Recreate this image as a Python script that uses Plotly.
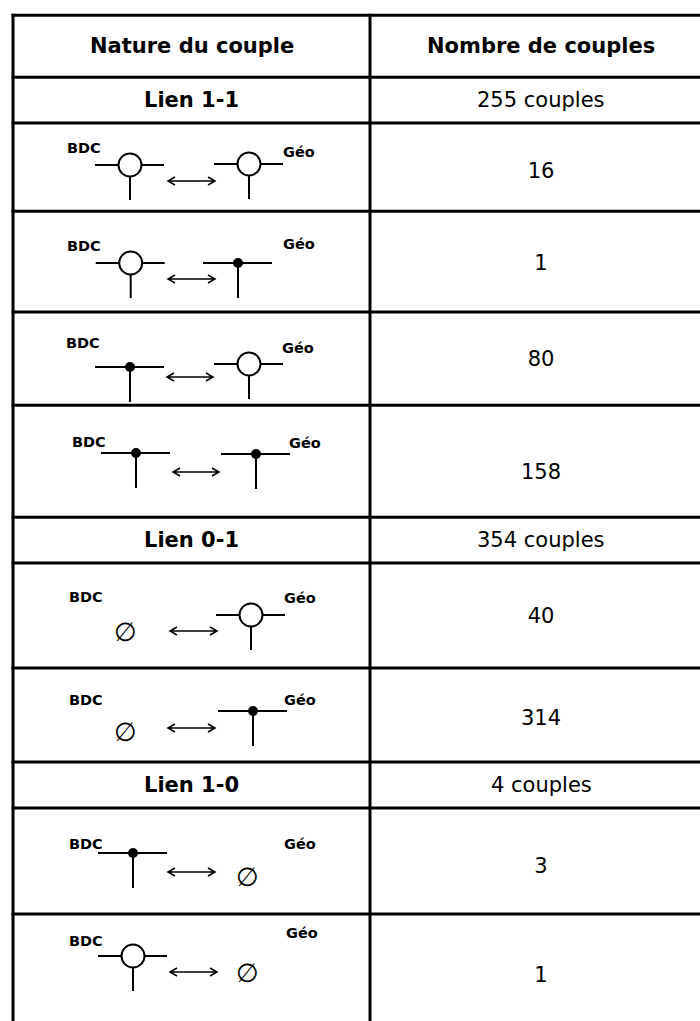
import plotly.graph_objects as go

# ---------------- data ----------------
header = ["Nature du couple", "Nombre de couples"]
section_names = ["Lien 1-1", "Lien 0-1", "Lien 1-0"]
section_totals = [255, 354, 4]
section_unit = "couples"
left_kinds = ["open", "open", "dot", "dot", "none", "none", "dot", "open"]
right_kinds = ["open", "dot", "open", "dot", "open", "dot", "none", "none"]
pair_counts = [16, 1, 80, 158, 40, 314, 3, 1]
source_label = "BDC"
target_label = "Géo"
empty_symbol = "∅"

# ---------------- layout geometry (pixels) ----------------
W, H = 700, 1021
x_left, x_div = 13, 370
col1_cx, col2_cx = 191.5, 541
h_lines = [15.3, 77.3, 123, 211.3, 312, 405.3, 517.3, 563, 668, 762, 808, 914]
header_y = 46
section_y = [100, 540, 785]
count_y = [173, 265, 361, 474, 618, 719.5, 867.5, 976.5]

bdc_pos = [(84, 148), (84, 246), (83, 343), (89, 442), (86, 597), (86, 700), (86, 844), (86, 941)]
geo_pos = [(299, 152), (299, 244), (298, 348), (305, 443), (300, 598), (300, 700), (300, 844), (302, 933)]
left_sym = [(130, 165), (130.7, 263), (130, 367), (136, 453), (125, 632), (125, 732), (133, 853), (133, 956)]
right_sym = [(249, 164), (238, 263), (249, 364), (256, 454), (251, 615), (253, 711), (247, 877), (247, 973)]
arrow_pos = [(168, 215, 181), (168, 215, 279), (167, 213, 377), (173, 219, 472),
             (170, 217, 631), (168, 215, 728), (168, 215, 872), (170, 217, 972)]

FONT = "DejaVu Sans"
TXT = 21
LBL = 14.5
BLACK = "#000000"

shapes = []
annotations = []


def line(x0, y0, x1, y1, w):
    shapes.append(dict(type="line", xref="x", yref="y", x0=x0, y0=y0, x1=x1, y1=y1,
                       line=dict(color=BLACK, width=w)))


def text(x, y, s, size, bold=False):
    annotations.append(dict(x=x, y=y, xref="x", yref="y", text=("<b>%s</b>" % s) if bold else s,
                            showarrow=False, xanchor="center", yanchor="middle",
                            font=dict(family=FONT, size=size, color=BLACK)))


def symbol(kind, cx, cy):
    if kind == "none":
        text(cx, cy, empty_symbol, 26)
        return
    line(cx - 35, cy, cx + 34, cy, 2)
    line(cx, cy, cx, cy + 35, 2)
    if kind == "open":
        r = 11.5
        shapes.append(dict(type="circle", xref="x", yref="y", x0=cx - r, x1=cx + r, y0=cy - r, y1=cy + r,
                           fillcolor="white", line=dict(color=BLACK, width=2)))
    else:
        r = 5
        shapes.append(dict(type="circle", xref="x", yref="y", x0=cx - r, x1=cx + r, y0=cy - r, y1=cy + r,
                           fillcolor=BLACK, line=dict(color=BLACK, width=0)))


def arrow(x0, x1, y):
    hl, hh = 7, 4
    path = (f"M {x0} {y} L {x1} {y} "
            f"M {x0 + hl} {y - hh} L {x0} {y} L {x0 + hl} {y + hh} "
            f"M {x1 - hl} {y - hh} L {x1} {y} L {x1 - hl} {y + hh}")
    shapes.append(dict(type="path", xref="x", yref="y", path=path,
                       line=dict(color=BLACK, width=1.5)))


# table grid
for y in h_lines:
    line(x_left - 1.5, y, W, y, 3)
line(x_left, h_lines[0] - 1.5, x_left, H, 3)
line(x_div, h_lines[0] - 1.5, x_div, H, 3)

# header
text(col1_cx, header_y, header[0], TXT, bold=True)
text(col2_cx, header_y, header[1], TXT, bold=True)

# sections
for name, tot, y in zip(section_names, section_totals, section_y):
    text(col1_cx, y, name, TXT, bold=True)
    text(col2_cx, y, f"{tot} {section_unit}", TXT)

# diagrams
for i in range(len(pair_counts)):
    text(bdc_pos[i][0], bdc_pos[i][1], source_label, LBL, bold=True)
    text(geo_pos[i][0], geo_pos[i][1], target_label, LBL, bold=True)
    symbol(left_kinds[i], *left_sym[i])
    symbol(right_kinds[i], *right_sym[i])
    arrow(*arrow_pos[i])

fig = go.Figure()
fig.add_trace(go.Scatter(
    x=[col2_cx] * len(pair_counts), y=count_y,
    text=[str(c) for c in pair_counts], mode="text",
    textposition="middle center",
    textfont=dict(family=FONT, size=TXT, color=BLACK),
    hoverinfo="skip", showlegend=False))

fig.update_layout(
    width=W, height=H, margin=dict(l=0, r=0, t=0, b=0),
    paper_bgcolor="white", plot_bgcolor="white",
    xaxis=dict(range=[0, W], visible=False, fixedrange=True),
    yaxis=dict(range=[H, 0], visible=False, fixedrange=True),
    shapes=shapes, annotations=annotations, showlegend=False,
)
fig.write_html("out.html", config={"displayModeBar": False, "staticPlot": True},
               post_script="document.body.style.margin='0';document.body.style.overflow='hidden';")
